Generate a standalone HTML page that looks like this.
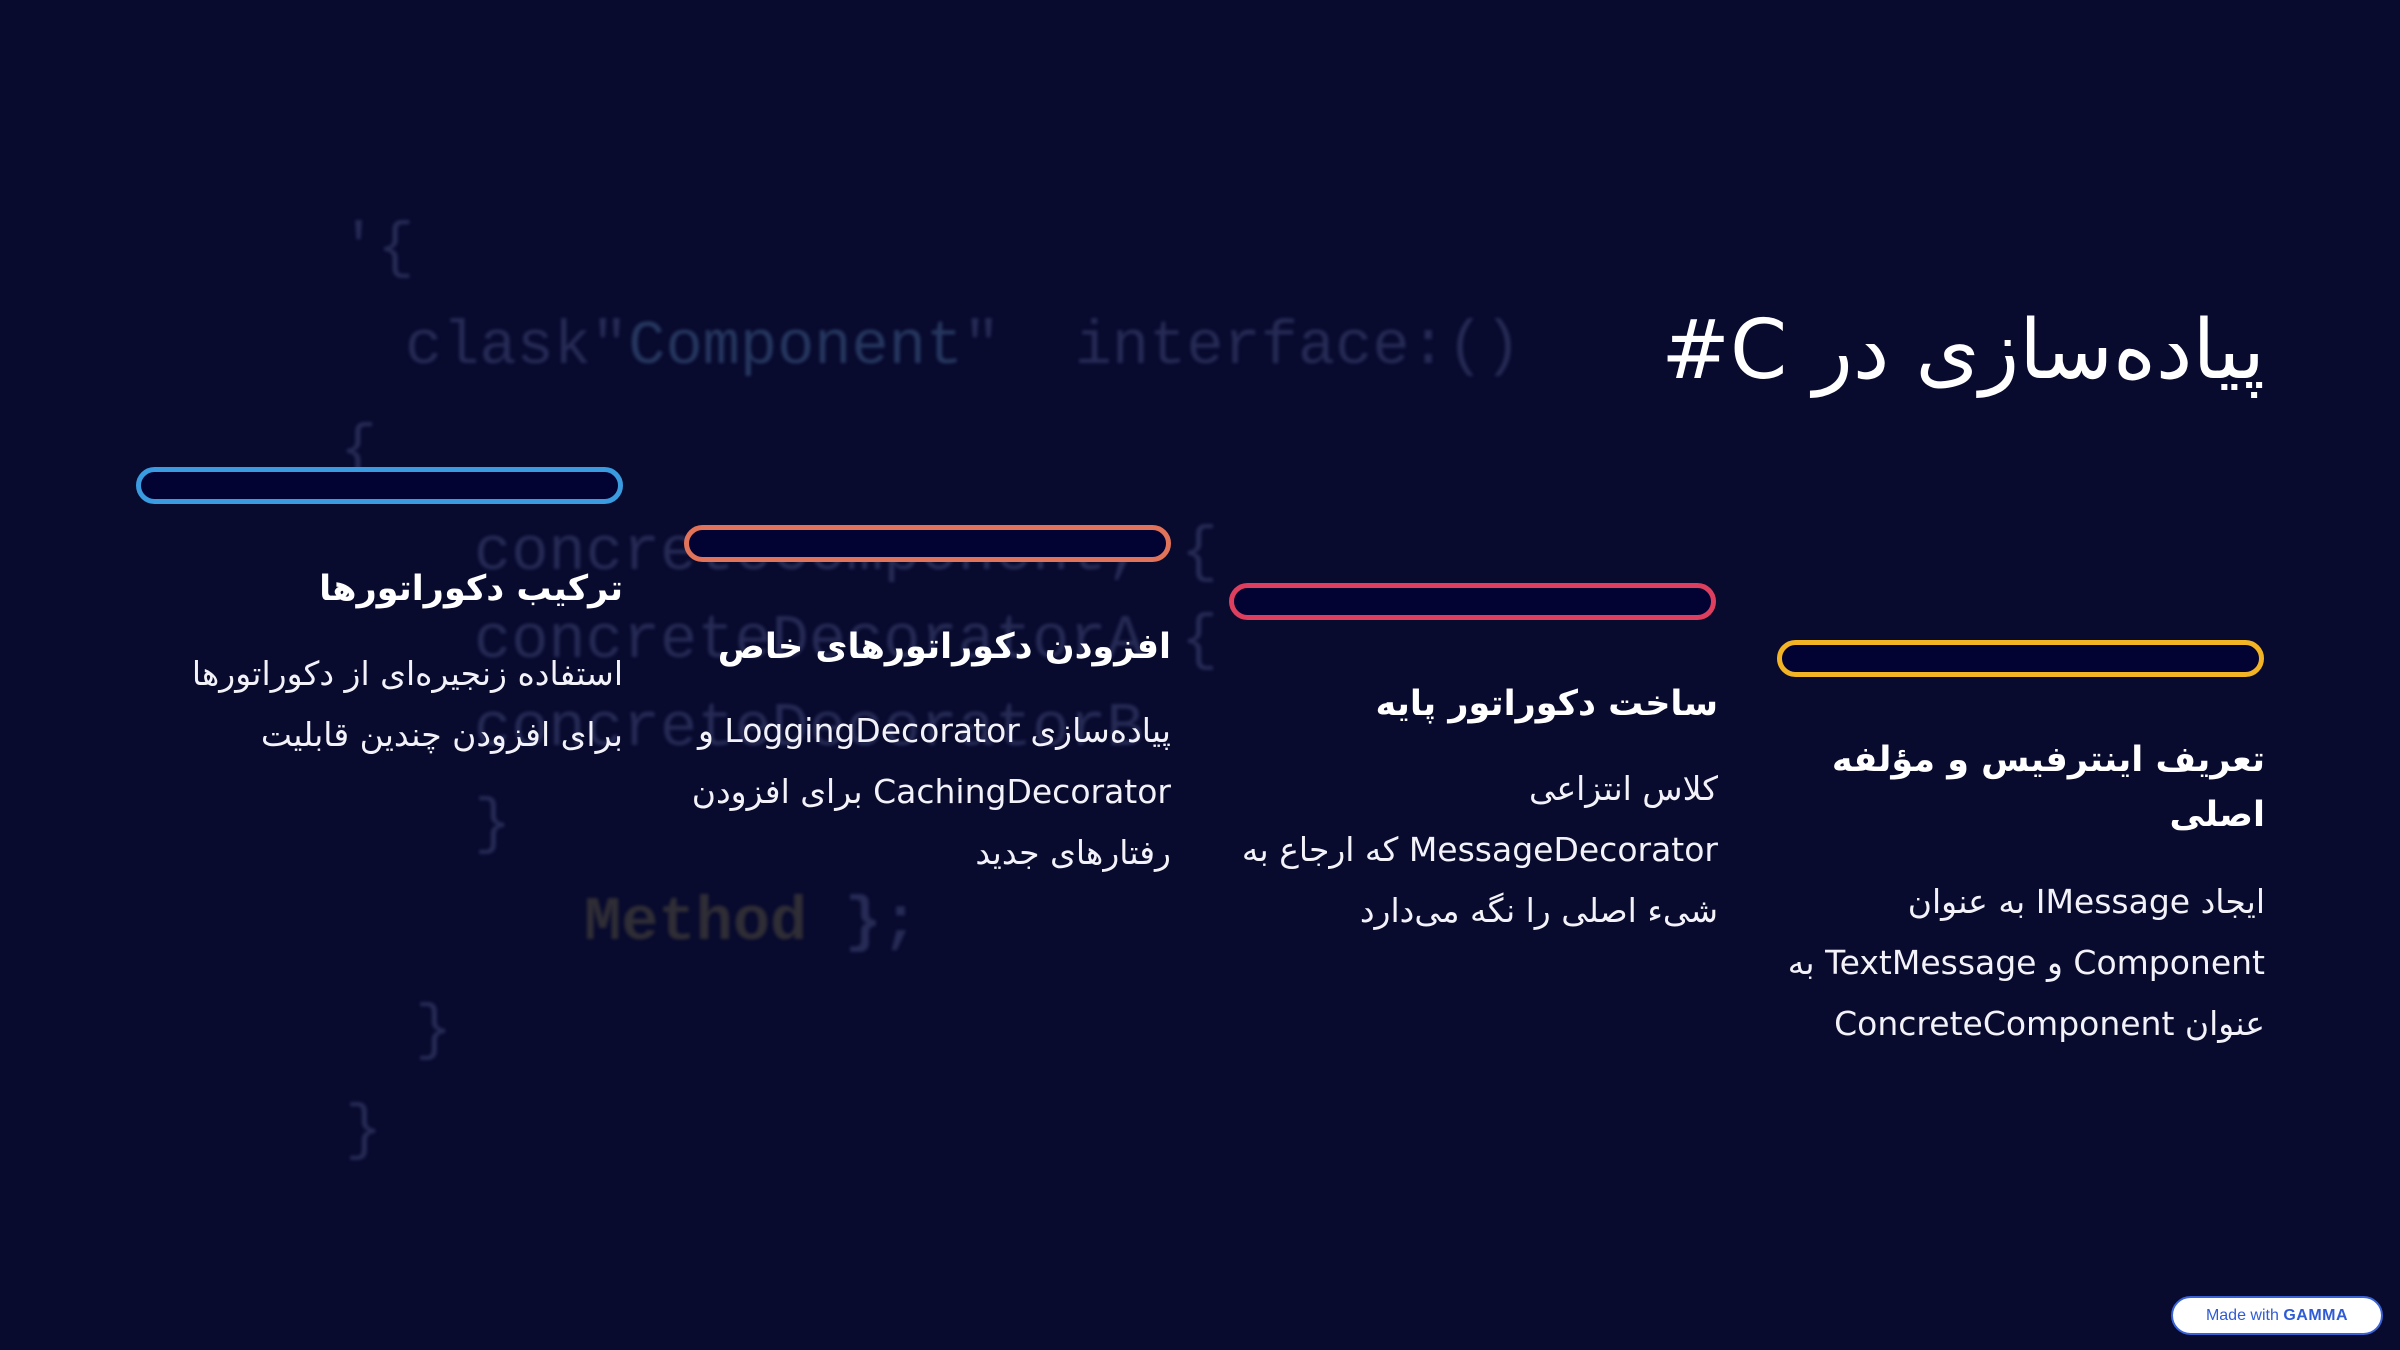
<!DOCTYPE html>
<html><head><meta charset="utf-8"><style>
html,body{margin:0;padding:0}
body{width:2400px;height:1350px;background:#080a2e;position:relative;overflow:hidden;font-family:"DejaVu Sans","Liberation Sans",sans-serif}
.code{position:absolute;font-family:"Liberation Mono","DejaVu Sans Mono",monospace;font-size:62px;color:#262b55;white-space:pre;filter:blur(1.5px);line-height:1}
.bar{position:absolute;width:477px;height:27px;border:5px solid;border-radius:20px;background:#020233}
.t{position:absolute;direction:rtl;text-align:right;color:#fff;white-space:nowrap}
.h{font-size:35px;font-weight:bold;line-height:56px}
.b{font-size:33px;line-height:61px;color:#f2f2f8}
</style></head><body>
<div class="code" style="left:340px;top:218px">'{</div>
<div class="code" style="left:405px;top:316px">clask"<span style="color:#26375f">Component</span>"  interface:()</div>
<div class="code" style="left:340px;top:420px">{</div>
<div class="code" style="left:474px;top:522px">concreteComponent, {</div>
<div class="code" style="left:474px;top:610px">concreteDecoratorA {</div>
<div class="code" style="left:474px;top:698px">concreteDecoratorB</div>
<div class="code" style="left:474px;top:794px">}</div>
<div class="code" style="left:584px;top:892px;font-weight:bold;color:#2f2d35">Method <span style="color:#262b55">};</span></div>
<div class="code" style="left:415px;top:1000px">}</div>
<div class="code" style="left:345px;top:1100px">}</div>

<div class="t" style="right:135px;top:296px;font-size:82px;line-height:110px">پیاده‌سازی در C#</div>

<div class="bar" style="left:136px;top:467px;border-color:#3a9be0"></div>
<div class="bar" style="left:684px;top:525px;border-color:#e0735a"></div>
<div class="bar" style="left:1229px;top:583px;border-color:#de3f5e"></div>
<div class="bar" style="left:1777px;top:640px;border-color:#f2b425"></div>

<div class="t h" style="right:1777px;top:561px">ترکیب دکوراتورها</div>
<div class="t b" style="right:1777px;top:643px">استفاده زنجیره‌ای از دکوراتورها<br>برای افزودن چندین قابلیت</div>

<div class="t h" style="right:1229px;top:619px">افزودن دکوراتورهای خاص</div>
<div class="t b" style="right:1229px;top:700px">پیاده‌سازی LoggingDecorator و<br>CachingDecorator برای افزودن<br>رفتارهای جدید</div>

<div class="t h" style="right:682px;top:676px">ساخت دکوراتور پایه</div>
<div class="t b" style="right:682px;top:758px">کلاس انتزاعی<br>MessageDecorator که ارجاع به<br>شیء اصلی را نگه می‌دارد</div>

<div class="t h" style="right:135px;top:733px;line-height:55px">تعریف اینترفیس و مؤلفه<br>اصلی</div>
<div class="t b" style="right:135px;top:871px">ایجاد IMessage به عنوان<br>Component و TextMessage به<br>عنوان ConcreteComponent</div>

<div style="position:absolute;left:2171px;top:1296px;width:208px;height:35px;border:2px solid #3b63d8;border-radius:20px;background:#fff;font-family:'Liberation Sans',sans-serif;font-size:16px;color:#2f5bd6;text-align:center;line-height:35px">Made with <b style="letter-spacing:0.5px">GAMMA</b></div>
</body></html>
